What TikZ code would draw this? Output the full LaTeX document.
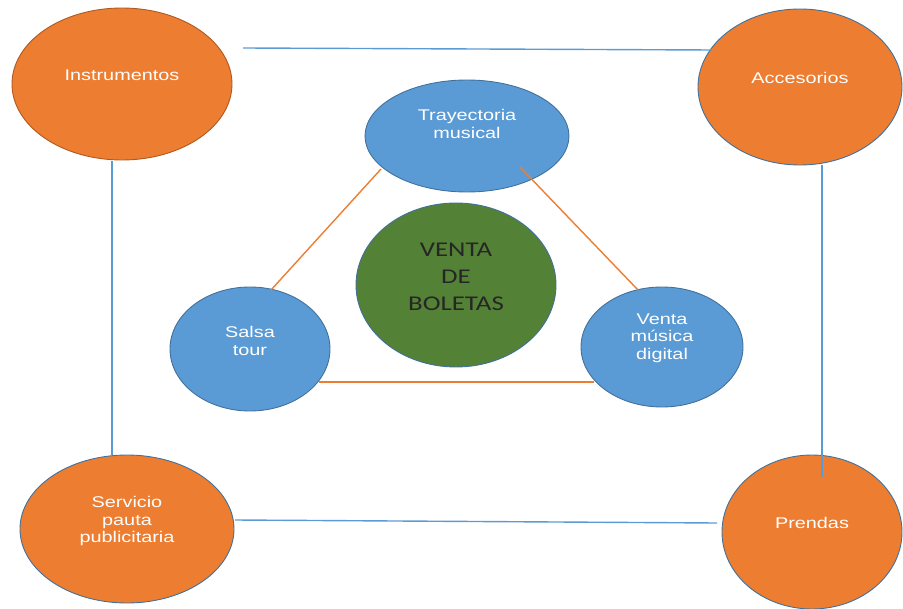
\documentclass[tikz,border=0pt]{standalone}
\usepackage{fontspec}
\setmainfont{Liberation Sans}
\newfontfamily\wfont[FakeStretch=1.28]{Liberation Sans}
\newfontfamily\gfont[FakeStretch=1.28]{Carlito}
\usetikzlibrary{shapes.geometric}
\definecolor{orangeF}{HTML}{ED7D31}
\definecolor{orangeB}{HTML}{AE5A21}
\definecolor{blueF}{HTML}{5B9BD5}
\definecolor{blueB}{HTML}{41719C}
\definecolor{greenF}{HTML}{538135}
\definecolor{lineBlue}{HTML}{5B9BD5}
\definecolor{lineOrange}{HTML}{ED7D31}
\begin{document}
\begin{tikzpicture}[x=1bp,y=-1bp,
  ell/.style={ellipse, inner sep=0pt, draw=blueB, line width=0.9bp},
  orangeell/.style={ell, fill=orangeF},
  blueell/.style={ell, fill=blueF},
  greenell/.style={ell, fill=greenF},
  wtext/.style={text=white, align=center, inner sep=0pt,
    font=\wfont\fontsize{15.5bp}{17.5bp}\selectfont},
  gtext/.style={text=black!85, align=center, inner sep=0pt,
    font=\gfont\fontsize{21bp}{27bp}\selectfont},
  bline/.style={draw=lineBlue, line width=1.4bp},
  oline/.style={draw=lineOrange, line width=1.4bp}]
\useasboundingbox (0,0) rectangle (903,609);

% outer orange ellipses
\node[orangeell, draw=orangeB, minimum width=220bp, minimum height=152bp,
  label={[wtext, name=instrT, yshift=9bp]center:Instrumentos}] (instr) at (122,84) {};
\node[orangeell, minimum width=204bp, minimum height=156bp,
  label={[wtext, name=accT, yshift=9bp]center:Accesorios}] (acc) at (800,87) {};
\node[orangeell, minimum width=214bp, minimum height=148bp,
  label={[wtext, name=servT, yshift=8bp]center:{Servicio\\pauta\\publicitaria}}] (serv) at (127,529) {};
\node[orangeell, minimum width=180bp, minimum height=154bp,
  label={[wtext, name=prenT, yshift=9bp]center:Prendas}] (pren) at (812,532) {};

% inner blue ellipses
\node[blueell, minimum width=204bp, minimum height=112bp,
  label={[wtext, name=trayT, yshift=12bp]center:{Trayectoria\\musical}}] (tray) at (467,136) {};
\node[blueell, minimum width=160bp, minimum height=124bp,
  label={[wtext, name=salsaT, yshift=8bp]center:{Salsa\\tour}}] (salsa) at (250,349) {};
\node[blueell, minimum width=162bp, minimum height=120bp,
  label={[wtext, name=ventaT, yshift=9bp]center:{Venta\\música\\digital}}] (venta) at (662,347) {};

% center green
\node[greenell, minimum width=200bp, minimum height=164bp,
  label={[gtext, name=boletT, yshift=8bp]center:{VENTA\\DE\\BOLETAS}}] (bolet) at (456,285) {};

% connector end points
\coordinate (t1) at (243,48);  \coordinate (t2) at (712,50);
\coordinate (l1) at (112,161); \coordinate (l2) at (112,455);
\coordinate (r1) at (822,165); \coordinate (r2) at (822,477);
\coordinate (b1) at (235,520); \coordinate (b2) at (717,523);
\coordinate (o1) at (381,169); \coordinate (o2) at (271,290);
\coordinate (o3) at (520,167); \coordinate (o4) at (638,290);
\coordinate (o5) at (319,382); \coordinate (o6) at (594,382);

% blue square connectors
\draw[bline] (t1) -- (t2);
\draw[bline] (l1) -- (l2);
\draw[bline] (r1) -- (r2);
\draw[bline] (b1) -- (b2);

% orange triangle connectors
\draw[oline] (o1) -- (o2);
\draw[oline] (o3) -- (o4);
\draw[oline] (o5) -- (o6);
\end{tikzpicture}
\end{document}
